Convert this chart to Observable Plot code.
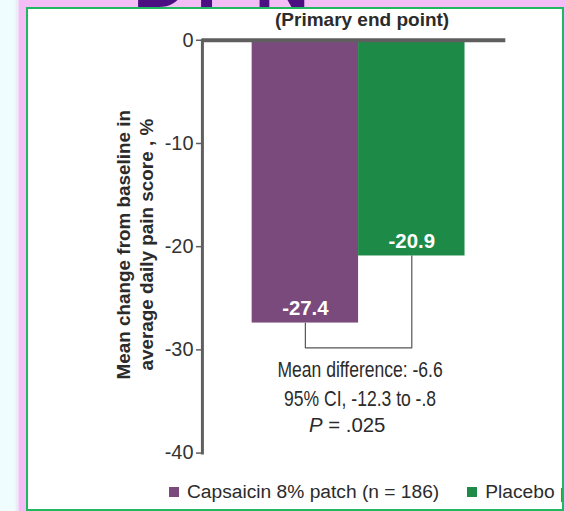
<!DOCTYPE html>
<html>
<head>
<meta charset="utf-8">
<script src="https://cdn.jsdelivr.net/npm/d3@7"></script>
<script src="https://cdn.jsdelivr.net/npm/@observablehq/plot@0.6"></script>
<style>
  html, body { margin: 0; padding: 0; }
  body { width: 565px; height: 511px; overflow: hidden; position: relative; background: #effdfd; font-family: "Liberation Sans Narrow", "Arial Narrow", "Liberation Sans", Arial, sans-serif; }
  #pink { position: absolute; left: 19px; top: -14px; width: 580px; height: 560px; background: #f4bdf6; border-radius: 12px; box-shadow: 0 0 5px 1px #f4c6f6; }
  #big { position: absolute; left: 133px; top: -56px; font-family: "Liberation Sans", Arial, sans-serif; font-weight: bold; font-size: 76px; color: #4b0f82; letter-spacing: 8px; line-height: 74px; white-space: nowrap; }
  #panel { position: absolute; left: 26px; top: 7px; width: 534px; height: 500px; border: 2px solid #1fb85e; background: #ffffff; overflow: hidden; }
  #chart { position: absolute; left: -28px; top: -9px; }
  .abs { position: absolute; white-space: nowrap; color: #2b2b2b; }
  #legend { position: absolute; left: 141px; top: 471px; font-size: 19.2px; color: #2b2b2b; white-space: nowrap; }
  #legend .item { display: inline-flex; align-items: center; margin-right: 28px; }
  #legend .sw { display: inline-block; width: 10px; height: 10px; margin-right: 8px; }
</style>
</head>
<body>
<div id="pink"></div>
<div id="big">DPN</div>
<div id="panel">
  <div id="chart"></div>
  <div class="abs" style="left:247px;top:0px;font-weight:bold;font-size:19px;" id="ptitle"></div>
  <div id="legend"></div>
</div>
<script>
// ---- data ----
const groups = ["Capsaicin 8% patch", "Placebo patch"];
const legendLabels = ["Capsaicin 8% patch (n = 186)", "Placebo patch"];
const values = [-27.4, -20.9];
const valueLabels = ["-27.4", "-20.9"];
const colors = ["#7a4a7c", "#1e8a47"];
const yTicks = [0, -10, -20, -30, -40];
const bracketY = -29.8;
const noteLines = ["Mean difference: -6.6", "95% CI, -12.3 to -.8"];
const noteY = [-31.95, -34.8];
const pLine = "P = .025";
const pLineY = -37.3;
const titleText = "(Primary end point)";
const yTitleLines = ["Mean change from baseline in", "average daily pain score , %"];

const bars = groups.map((g, i) => ({group: g, value: values[i], label: valueLabels[i]}));
const bracket = [
  {group: groups[0], value: values[0]},
  {group: groups[0], value: bracketY},
  {group: groups[1], value: bracketY},
  {group: groups[1], value: values[1]}
];
const notes = noteLines.map((t, i) => ({text: t, y: noteY[i]}));

const font = '"Liberation Sans Narrow", "Arial Narrow", "Liberation Sans", Arial, sans-serif';

const chart = Plot.plot({
  width: 565,
  height: 511,
  marginTop: 40,
  marginBottom: 56,
  marginLeft: 203,
  marginRight: 57,
  style: {background: "transparent", fontFamily: font, overflow: "visible"},
  x: {domain: groups, range: [252, 467], padding: 0, axis: null},
  y: {domain: [-40, 0], axis: null},
  color: {domain: groups, range: colors},
  marks: [
    Plot.barY(bars, {x: "group", y: "value", fill: "group"}),
    Plot.ruleY([0], {stroke: "#5f5f5f", strokeWidth: 4}),
    Plot.axisY({ticks: yTicks, tickSize: 6, tickPadding: 3, fontSize: 20, stroke: "#5f5f5f", strokeWidth: 1.5, color: "#333", tickFormat: d => String(d)}),
    Plot.frame({anchor: "left", stroke: "#5f5f5f", strokeWidth: 3}),
    Plot.line(bracket, {x: "group", y: "value", stroke: "#555", strokeWidth: 1.2}),
    Plot.text(bars, {x: "group", y: "value", text: "label", fill: "white", fontWeight: "bold", fontSize: 20.5, dy: -15}),
    Plot.text(notes, {y: "y", text: "text", frameAnchor: "middle", dx: 6, fontSize: 21.5, fill: "#2b2b2b"}),
    Plot.text([pLine], {y: [pLineY], text: d => d, frameAnchor: "middle", dx: -7, fontSize: 20.5, fill: "#2b2b2b"})
  ]
});
document.getElementById("chart").appendChild(chart);

// italic P in the last note line; condense the first two note lines like the reference's narrow face
const ns = "http://www.w3.org/2000/svg";
chart.querySelectorAll("text").forEach(t => {
  if (noteLines.includes(t.textContent)) {
    const len = t.getComputedTextLength();
    t.setAttribute("textLength", (len * 0.82).toFixed(1));
    t.setAttribute("lengthAdjust", "spacingAndGlyphs");
  } else if (t.textContent === pLine) {
    t.textContent = "";
    const a = document.createElementNS(ns, "tspan");
    a.setAttribute("font-style", "italic");
    a.textContent = pLine.slice(0, 1);
    const b = document.createElementNS(ns, "tspan");
    b.textContent = pLine.slice(1);
    t.appendChild(a); t.appendChild(b);
  }
});

// y-axis title (rotated, two lines)
const g = document.createElementNS(ns, "g");
g.setAttribute("transform", "translate(124,246) rotate(-90)");
yTitleLines.forEach((line, i) => {
  const t = document.createElementNS(ns, "text");
  t.setAttribute("text-anchor", "middle");
  t.setAttribute("y", i * 23);
  t.setAttribute("dy", "0.35em");
  t.setAttribute("font-weight", "bold");
  t.setAttribute("font-size", 19);
  t.setAttribute("fill", "#2b2b2b");
  t.textContent = line;
  g.appendChild(t);
});
chart.appendChild(g);

document.getElementById("ptitle").textContent = titleText;

const legend = document.getElementById("legend");
legendLabels.forEach((lab, i) => {
  const it = document.createElement("span");
  it.className = "item";
  const sw = document.createElement("span");
  sw.className = "sw";
  sw.style.background = colors[i];
  it.appendChild(sw);
  it.appendChild(document.createTextNode(lab));
  legend.appendChild(it);
});
</script>
</body>
</html>
